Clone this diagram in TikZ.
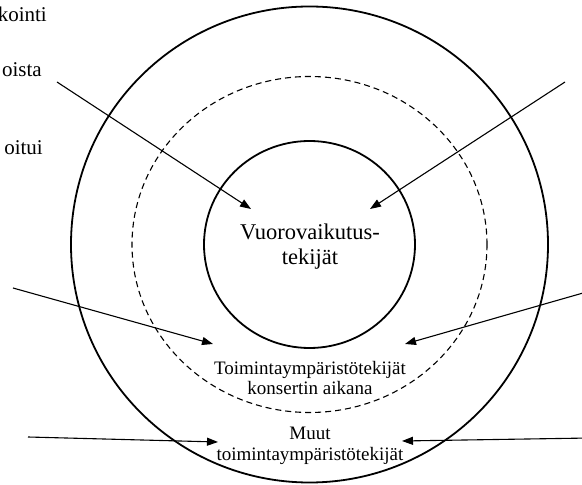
\documentclass[tikz,border=0pt]{standalone}
\usepackage{fontspec}
\setmainfont{Liberation Serif}
\usetikzlibrary{arrows.meta,shapes.geometric}
\begin{document}
\begin{tikzpicture}[x=1pt,y=1pt,
  ring/.style={draw=black,ellipse,inner sep=0pt,line width=1.8pt},
  dashring/.style={draw=black,ellipse,inner sep=0pt,line width=1.1pt,dash pattern=on 6pt off 4pt},
  arr/.style={line width=1.1pt,-{Triangle[length=11pt,width=8pt]}},
  bigtxt/.style={align=center,inner sep=0pt,font=\fontsize{22.5}{25}\selectfont},
  smalltxt/.style={align=center,inner sep=0pt,font=\fontsize{19}{20.5}\selectfont},
  cuttxt/.style={inner sep=0pt,anchor=base east,font=\fontsize{21}{24}\selectfont}]
\clip (0,0) rectangle (582,485);
\fill[white] (0,0) rectangle (582,485);
\coordinate (c) at (309.5,240.5);
\node[ring,minimum width=477pt,minimum height=476pt] (outer) at (c) {};
\node[dashring,minimum width=355pt,minimum height=336pt] (mid) at (c) {};
\node[ring,minimum width=211pt,minimum height=207pt] (inner) at (c) {};
\node[bigtxt] (vuoro) at (310,238) {Vuorovaikutus-\\tekijät};
\node[smalltxt] (toim) at (310,107) {Toimintaympäristötekijät\\konsertin aikana};
\node[smalltxt] (muut) at (310,39) {Muut\\toimintaympäristötekijät};
\node[cuttxt] (t1) at (47,463) {kointi};
\node[cuttxt] (t2) at (42,408) {oista};
\node[cuttxt] (t3) at (43,330) {oitui};
\coordinate (s1) at (57,403);  \coordinate (e1) at (251,276);
\coordinate (s2) at (565,403); \coordinate (e2) at (370,276);
\coordinate (s3) at (13,197);  \coordinate (e3) at (213,141);
\coordinate (s4) at (590,194); \coordinate (e4) at (405,141);
\coordinate (s5) at (28,48);   \coordinate (e5) at (218,43);
\coordinate (s6) at (590,47);  \coordinate (e6) at (402,44);
\draw[arr] (s1) -- (e1);
\draw[arr] (s2) -- (e2);
\draw[arr] (s3) -- (e3);
\draw[arr] (s4) -- (e4);
\draw[arr] (s5) -- (e5);
\draw[arr] (s6) -- (e6);
\end{tikzpicture}
\end{document}
